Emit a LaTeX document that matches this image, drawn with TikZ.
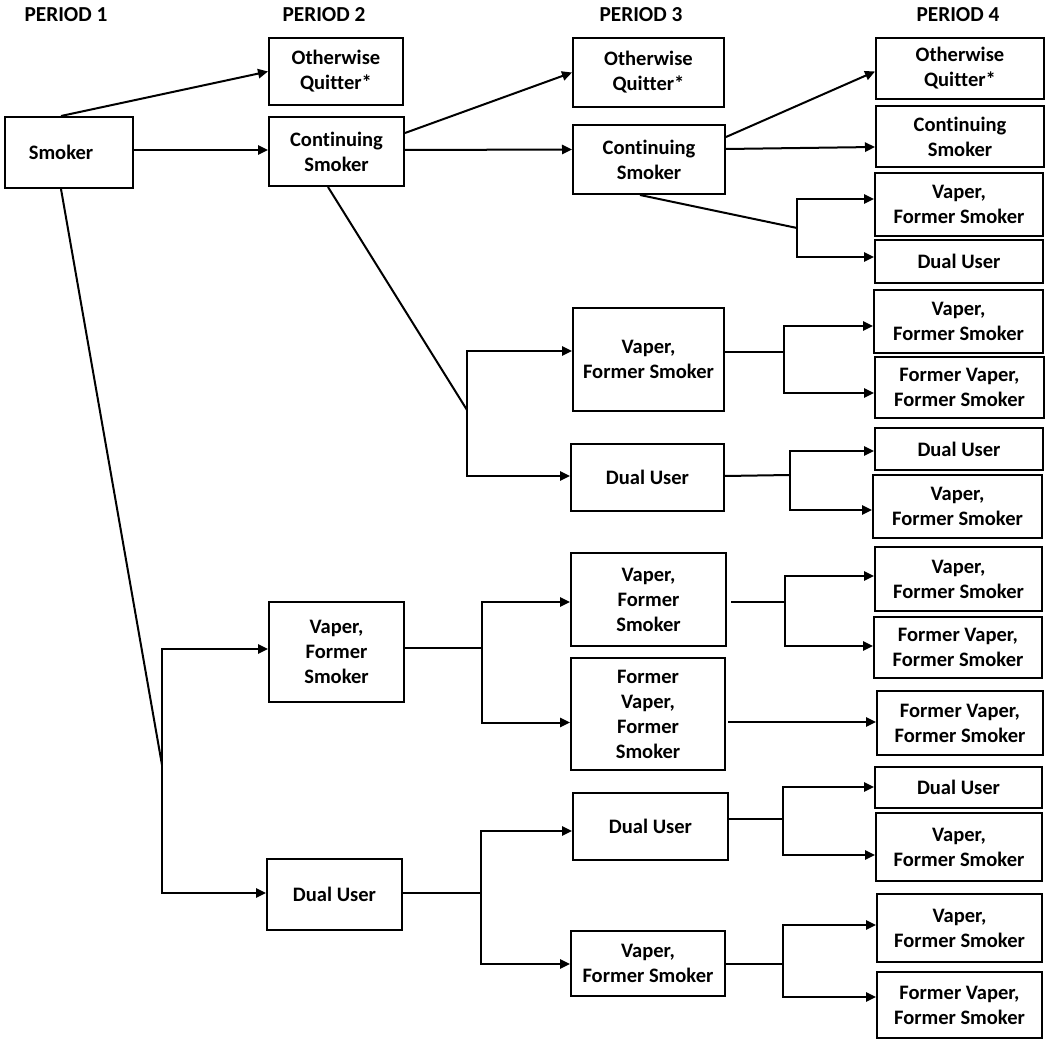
\documentclass[tikz,border=0pt]{standalone}
\usepackage{fontspec}
\setmainfont{Carlito}[Ligatures=NoCommon]
\usetikzlibrary{arrows.meta,calc}
\newcommand\mybox[6]{\node[box,minimum width={(#4-#2)*0.75pt},minimum height={(#5-#3)*0.75pt}] (#1) at ({(#2+#4)/2},{(#3+#5)/2}) {#6};}
\begin{document}
\begin{tikzpicture}[x=0.75pt,y=-0.75pt,
  box/.style={draw,line width=1.5pt,inner sep=0pt,align=center,font=\bfseries\fontsize{15.4pt}{18.75pt}\selectfont},
  lnk/.style={line width=1.5pt},
  arr/.style={line width=1.5pt,-{Triangle[length=7.5pt,width=7pt]}},
  per/.style={anchor=base,inner sep=0pt,font=\bfseries\fontsize{16pt}{19pt}\selectfont}]
\useasboundingbox (0,0) rectangle (1050,1044);

% period headings
\node[per] (h1) at (66,22) {PERIOD 1};
\node[per] (h2) at (324,22) {PERIOD 2};
\node[per] (h3) at (641,22) {PERIOD 3};
\node[per] (h4) at (958,22) {PERIOD 4};

% period 1 and 2
\mybox{smk}{5}{117}{133}{188}{Smoker\hspace{12pt}}
\mybox{poq2}{269}{38}{403}{105}{Otherwise\\Quitter*}
\mybox{pcs2}{269}{117}{404}{186}{Continuing\\Smoker}
\mybox{pvp2}{269}{602}{404}{702}{Vaper,\\Former\\Smoker}
\mybox{pdu2}{267}{859}{402}{930}{Dual User}

% period 3
\mybox{poq3}{573}{38}{724}{107}{Otherwise\\Quitter*}
\mybox{pcs3}{573}{125}{725}{194}{Continuing\\Smoker}
\mybox{pvpA3}{573}{308}{724}{411}{Vaper,\\Former Smoker}
\mybox{pduA3}{571}{444}{724}{511}{Dual User}
\mybox{pvpB3}{571}{553}{726}{646}{Vaper,\\Former\\Smoker}
\mybox{pfvB3}{571}{658}{725}{770}{Former\\Vaper,\\Former\\Smoker}
\mybox{pduC3}{573}{793}{728}{860}{Dual User}
\mybox{pvpC3}{571}{931}{725}{996}{Vaper,\\Former Smoker}

% period 4
\mybox{q1}{876}{38}{1044}{99}{Otherwise\\Quitter*}
\mybox{q2}{876}{106}{1044}{167}{Continuing\\Smoker}
\mybox{q3}{875}{173}{1043}{236}{Vaper,\\Former Smoker}
\mybox{q4}{875}{240}{1043}{283}{Dual User}
\mybox{q5}{874}{290}{1043}{353}{Vaper,\\Former Smoker}
\mybox{q6}{875}{357}{1044}{418}{Former Vaper,\\Former Smoker}
\mybox{q7}{875}{428}{1043}{470}{Dual User}
\mybox{q8}{873}{475}{1042}{538}{Vaper,\\Former Smoker}
\mybox{q9}{875}{547}{1042}{611}{Vaper,\\Former Smoker}
\mybox{q10}{874}{617}{1042}{678}{Former Vaper,\\Former Smoker}
\mybox{q11}{877}{691}{1043}{755}{Former Vaper,\\Former Smoker}
\mybox{q12}{875}{767}{1042}{808}{Dual User}
\mybox{q13}{876}{813}{1042}{881}{Vaper,\\Former Smoker}
\mybox{q14}{877}{894}{1042}{962}{Vaper,\\Former Smoker}
\mybox{q15}{877}{972}{1042}{1038}{Former Vaper,\\Former Smoker}

% junctions
\coordinate (j1) at (162,765);
\coordinate (j2) at (467,410);
\coordinate (j3) at (797,228);
\coordinate (j4) at (784,352);
\coordinate (j5) at (790,475);
\coordinate (j6) at (482,648);
\coordinate (j7) at (785,602);
\coordinate (j8) at (481,893);
\coordinate (j9) at (783,819);
\coordinate (j10) at (783,964);

% from smoker
\draw[arr] ($(smk.north)+(-8,0)$) -- (poq2.west);
\draw[arr] ($(smk.east)+(0,-2.5)$) -- ($(pcs2.west)+(0,-1.5)$);
\draw[lnk] ($(smk.south)+(-8,0)$) -- (j1);
\draw[arr] (j1) |- ($(pvp2.west)+(0,-3)$);
\draw[arr] (j1) |- ($(pdu2.west)+(0,-1.5)$);

% from continuing smoker (P2)
\draw[arr] ($(pcs2.east)+(0,-18.5)$) -- (poq3.west);
\draw[arr] ($(pcs2.east)+(0,-1.5)$) -- ($(pcs3.west)+(0,-10)$);
\draw[lnk] ($(pcs2.south)+(-8.5,0)$) -- (j2);
\draw[arr] (j2) |- ($(pvpA3.west)+(0,-8.5)$);
\draw[arr] (j2) |- ($(pduA3.west)+(0,-1.5)$);

% from continuing smoker (P3)
\draw[arr] ($(pcs3.east)+(0,-22.5)$) -- ($(q1.west)+(0,3)$);
\draw[arr] ($(pcs3.east)+(0,-10.5)$) -- ($(q2.west)+(0,10.5)$);
\draw[lnk] ($(pcs3.south)+(-9,0)$) -- (j3);
\draw[arr] (j3) |- ($(q3.west)+(0,-5.5)$);
\draw[arr] (j3) |- ($(q4.west)+(0,-4.5)$);

% from vaper (P3, upper)
\draw[lnk] ($(pvpA3.east)+(0,-7.5)$) -- (j4);
\draw[arr] (j4) |- ($(q5.west)+(0,4.5)$);
\draw[arr] (j4) |- ($(q6.west)+(0,5.5)$);

% from dual user (P3, upper)
\draw[lnk] ($(pduA3.east)+(0,-1.5)$) -- (j5);
\draw[arr] (j5) |- ($(q7.west)+(0,2)$);
\draw[arr] (j5) |- ($(q8.west)+(0,3.5)$);

% from vaper (P2)
\draw[lnk] ($(pvp2.east)+(0,-4)$) -- (j6);
\draw[arr] (j6) |- ($(pvpB3.west)+(0,2.5)$);
\draw[arr] (j6) |- ($(pfvB3.west)+(0,8.5)$);
\draw[lnk] ($(pvpB3.east)+(4,2.5)$) -- (j7);
\draw[arr] (j7) |- ($(q9.west)+(0,-3)$);
\draw[arr] (j7) |- ($(q10.west)+(0,-1.5)$);
\draw[arr] ($(pfvB3.east)+(2,8)$) -- ($(q11.west)+(0,-1)$);

% from dual user (P2)
\draw[lnk] ($(pdu2.east)+(0,-1.5)$) -- (j8);
\draw[arr] (j8) |- ($(pduC3.west)+(0,4.5)$);
\draw[arr] (j8) |- ($(pvpC3.west)+(0,0.5)$);
\draw[lnk] ($(pduC3.east)+(0,-7.5)$) -- (j9);
\draw[arr] (j9) |- ($(q12.west)+(0,-0.5)$);
\draw[arr] (j9) |- ($(q13.west)+(0,8)$);
\draw[lnk] ($(pvpC3.east)+(0,0.5)$) -- (j10);
\draw[arr] (j10) |- ($(q14.west)+(0,-3)$);
\draw[arr] (j10) |- ($(q15.west)+(0,-8)$);
\end{tikzpicture}
\end{document}
